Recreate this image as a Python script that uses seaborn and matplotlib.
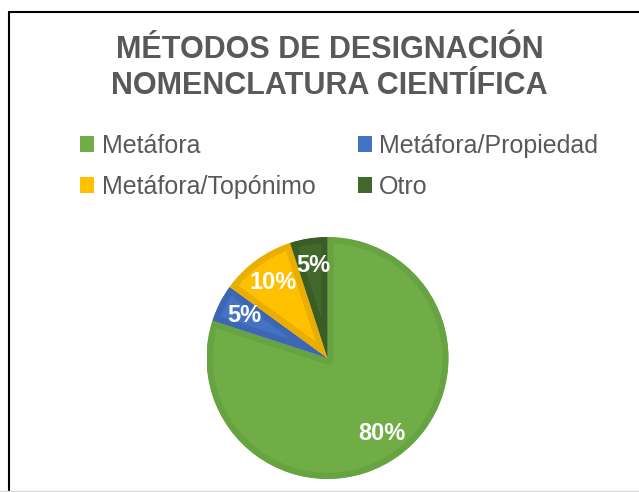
import matplotlib
matplotlib.use("Agg")
import matplotlib.pyplot as plt
from matplotlib.patches import Patch
from matplotlib.lines import Line2D
import seaborn as sns

# Data
categories = ["Metáfora", "Metáfora/Propiedad", "Metáfora/Topónimo", "Otro"]
values = [80, 5, 10, 5]
colors = ["#70AD47", "#4472C4", "#FFC000", "#43682B"]
edge_colors = ["#67A441", "#3D67B3", "#E9AE00", "#3A5C25"]
title = "MÉTODOS DE DESIGNACIÓN\nNOMENCLATURA CIENTÍFICA"

sns.set_theme(style="white")
plt.rcParams['font.family'] = ['Liberation Sans', 'DejaVu Sans']

fig = plt.figure(figsize=(6.39, 4.92), dpi=100)
fig.patch.set_facecolor("white")

# Title
fig.text(0.516, 0.862, title, ha="center", va="center", fontsize=22,
         fontweight="bold", color="#595959", linespacing=1.25)

# Pie
ax = fig.add_axes([0.3232, 0.0264, 0.3787, 0.4919])
wedges, texts, autotexts = ax.pie(
    values, colors=colors, startangle=90, counterclock=False,
    autopct="%1.0f%%", pctdistance=0.77,
    textprops=dict(color="white", fontweight="bold", fontsize=17),
)
# darker inner band along the slice edges (clipped to each slice)
for w, ec in zip(wedges, edge_colors):
    w.set_edgecolor(ec)
    w.set_linewidth(9)
    w.set_joinstyle("round")
    w.set_clip_on(True)
    w.set_clip_path(w)
ax.set_xlim(-1, 1)
ax.set_ylim(-1, 1)
ax.set_aspect("equal")
ax.axis("off")

# Legend, row-major order with 2 columns
handles = [Patch(facecolor=c, edgecolor="none") for c in colors]
order = [0, 2, 1, 3]
fig.legend([handles[i] for i in order], [categories[i] for i in order],
           ncol=2, loc="upper left", bbox_to_anchor=(80 / 639, 1 - 134 / 492),
           frameon=False, fontsize=18, labelcolor="#595959",
           borderpad=0, borderaxespad=0, handlelength=0.56, handleheight=0.6,
           handletextpad=0.3, columnspacing=1.7, labelspacing=0.68)

# Chart area border
fig.add_artist(Line2D([8.5 / 639, 8.5 / 639], [0, 1 - 11.5 / 492],
                      transform=fig.transFigure, color="black", lw=1.5))
fig.add_artist(Line2D([8.5 / 639, 1], [1 - 11.5 / 492, 1 - 11.5 / 492],
                      transform=fig.transFigure, color="black", lw=1.5))
fig.add_artist(Line2D([0, 1], [1.5 / 492, 1.5 / 492],
                      transform=fig.transFigure, color="#D9D9D9", lw=1))

fig.savefig("out.png", dpi=100)
